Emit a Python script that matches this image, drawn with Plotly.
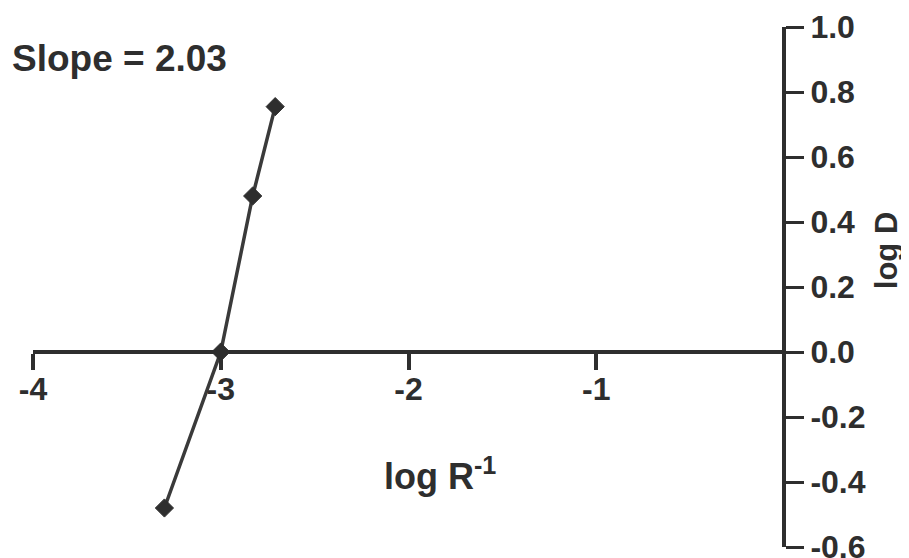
import plotly.graph_objects as go

# Data
log_r_inv = [-3.30, -3.00, -2.83, -2.71]
log_d = [-0.48, 0.0, 0.48, 0.755]

x_tick_vals = [-4, -3, -2, -1]
x_tick_text = ["-4", "-3", "-2", "-1"]
y_tick_vals = [1.0, 0.8, 0.6, 0.4, 0.2, 0.0, -0.2, -0.4, -0.6]
y_tick_text = ["1.0", "0.8", "0.6", "0.4", "0.2", "0.0", "-0.2", "-0.4", "-0.6"]

slope_label = "Slope = 2.03"
x_title = "log R<sup>-1</sup>"
y_title = "log D"

FONT = "Liberation Sans, Arial, sans-serif"
INK = "#2e2e2e"

fig = go.Figure()
fig.add_trace(go.Scatter(
    x=log_r_inv, y=log_d, mode="lines+markers",
    line=dict(color="#3a3a3a", width=3.5),
    marker=dict(symbol="diamond", size=14, color=INK,
                line=dict(color=INK, width=1)),
    showlegend=False, cliponaxis=False,
))

# the page body has an 8px margin, so the figure is sized to fit the window
fig.update_layout(
    width=901, height=550,
    margin=dict(l=25, r=125, t=19, b=11),
    paper_bgcolor="white", plot_bgcolor="white",
    font=dict(family=FONT, color=INK),
    xaxis=dict(
        range=[-4, 0], showgrid=False, zeroline=False, automargin=False,
        showline=True, linewidth=4, linecolor=INK,
        anchor="free", position=0.375,
        tickmode="array", tickvals=x_tick_vals, ticktext=x_tick_text,
        ticks="outside", ticklen=16, tickwidth=4, tickcolor=INK,
        ticklabelstandoff=-8,
        tickfont=dict(size=32, family=FONT, weight="bold", color=INK),
    ),
    yaxis=dict(
        range=[-0.6, 1.0], showgrid=False, zeroline=False, automargin=False,
        showline=True, linewidth=4, linecolor=INK,
        side="right", anchor="free", position=1,
        tickmode="array", tickvals=y_tick_vals, ticktext=y_tick_text,
        ticks="outside", ticklen=18, tickwidth=3, tickcolor=INK,
        ticklabeloverflow="allow",
        tickfont=dict(size=32, family=FONT, weight="bold", color=INK),
    ),
    annotations=[
        dict(text=slope_label, xref="paper", yref="paper", x=-0.030, y=0.940,
             xanchor="left", yanchor="middle", showarrow=False,
             font=dict(size=37, family=FONT, weight="bold", color=INK)),
        dict(text=x_title, xref="paper", yref="paper", x=0.542, y=0.141,
             xanchor="center", yanchor="middle", showarrow=False,
             font=dict(size=36, family=FONT, weight="bold", color=INK)),
        dict(text=y_title, xref="paper", yref="paper", x=1.136, y=0.571,
             xanchor="center", yanchor="middle", showarrow=False,
             textangle=-90,
             font=dict(size=31, family=FONT, weight="bold", color=INK)),
    ],
)

fig.write_html("out.html")
